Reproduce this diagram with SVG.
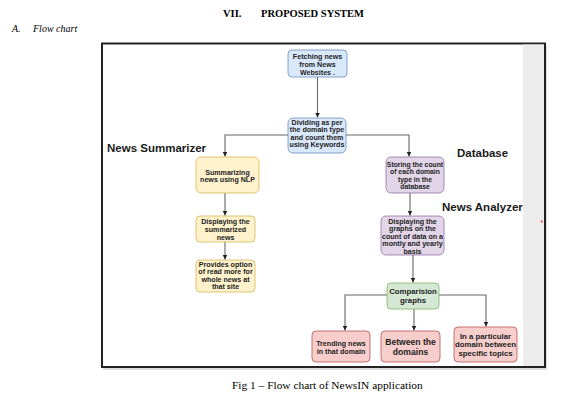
<svg xmlns="http://www.w3.org/2000/svg" width="575" height="400" viewBox="0 0 575 400">
<defs>
<style>
.doc{font-family:"Liberation Serif","Times New Roman",serif;fill:#000}
.lbl{font-family:"Liberation Sans",Arial,sans-serif;font-weight:bold;font-size:11.5px;fill:#1a1a1a}
.t{font-family:"Liberation Sans",Arial,sans-serif;font-weight:bold;font-size:7.1px;fill:#222;text-anchor:middle}
.s68{font-size:6.8px}
.s78{font-size:7.8px}
.s86{font-size:8.6px}
.blue{fill:#dae8fc;stroke:#6c8ebf;stroke-width:0.8}
.yel{fill:#fff2cc;stroke:#d6b656;stroke-width:0.8}
.pur{fill:#e1d5e7;stroke:#9673a6;stroke-width:0.8}
.grn{fill:#d5e8d4;stroke:#82b366;stroke-width:0.8}
.red{fill:#f8cecc;stroke:#b85450;stroke-width:0.8}
.c{fill:none;stroke:#666;stroke-width:1.1}
</style>
<marker id="ah" markerWidth="6" markerHeight="6" refX="5" refY="3" orient="auto" markerUnits="userSpaceOnUse">
<path d="M0,0.5 L5,3 L0,5.5 Z" fill="#222"/>
</marker>
</defs>
<rect width="575" height="400" fill="#fff"/>
<text class="doc" x="223" y="17" font-size="10.5" font-weight="bold">VII.</text>
<text class="doc" x="261" y="17" font-size="10.5" font-weight="bold">PROPOSED SYSTEM</text>
<text class="doc" x="12" y="32" font-size="10" font-style="italic">A.</text>
<text class="doc" x="33" y="32" font-size="10" font-style="italic">Flow chart</text>
<text class="doc" x="232" y="389" font-size="11.4">Fig 1 –  Flow chart of NewsIN application</text>

<g id="frame">
<rect x="103" y="45" width="444" height="325" fill="#bbb" opacity="0.5"/>
<rect x="102" y="43.5" width="443" height="323.5" fill="#fff" stroke="#222" stroke-width="2"/>
<rect x="523" y="44.5" width="21" height="321.5" fill="#ececec"/>
<rect x="541" y="220.5" width="1.5" height="2" fill="#e33"/>
</g>

<g id="labels">
<text class="lbl" x="107" y="152">News Summarizer</text>
<text class="lbl" x="457" y="157">Database</text>
<text class="lbl" x="442" y="211">News Analyzer</text>
</g>

<g id="connectors">
<path class="c" d="M317.5,77 V117.5" marker-end="url(#ah)"/>
<path class="c" d="M288,135 H225 V156.5" marker-end="url(#ah)"/>
<path class="c" d="M346,135 H409 V156.5" marker-end="url(#ah)"/>
<path class="c" d="M225,193 V215.5" marker-end="url(#ah)"/>
<path class="c" d="M225,242 V259.5" marker-end="url(#ah)"/>
<path class="c" d="M410,193 V215.5" marker-end="url(#ah)"/>
<path class="c" d="M413,255 V282.5" marker-end="url(#ah)"/>
<path class="c" d="M387,295 H345 V330.5" marker-end="url(#ah)"/>
<path class="c" d="M414,309 V330.5" marker-end="url(#ah)"/>
<path class="c" d="M439,295 H486 V326.5" marker-end="url(#ah)"/>
</g>

<g id="fetch">
<rect class="blue" x="288" y="50" width="59" height="27" rx="4"/>
<text class="t" x="317.5" y="58.5">Fetching news</text>
<text class="t" x="317.5" y="66.5">from  News</text>
<text class="t" x="317.5" y="74.5">Websites .</text>
</g>
<g id="divide">
<rect class="blue" x="288" y="118" width="58" height="35" rx="5"/>
<text class="t" x="317" y="124.5">Dividing as per</text>
<text class="t" x="317" y="132">the domain type</text>
<text class="t" x="317" y="139.5">and count them</text>
<text class="t" x="317" y="147">using Keywords</text>
</g>
<g id="summarize">
<rect class="yel" x="196" y="157" width="63" height="36" rx="5"/>
<text class="t" x="227.5" y="174.5">Summarizing</text>
<text class="t" x="227.5" y="182">news using NLP</text>
</g>
<g id="display-summary">
<rect class="yel" x="196" y="216" width="59" height="26" rx="4"/>
<text class="t" x="225.5" y="223.5">Displaying the</text>
<text class="t" x="225.5" y="231.5">summarized</text>
<text class="t" x="225.5" y="239.5">news</text>
</g>
<g id="read-more">
<rect class="yel" x="196" y="260" width="59" height="32" rx="4"/>
<text class="t" x="225.5" y="266.5">Provides option</text>
<text class="t" x="225.5" y="274">of read more for</text>
<text class="t" x="225.5" y="281.5">whole news at</text>
<text class="t" x="225.5" y="289">that site</text>
</g>
<g id="store">
<rect class="pur" x="386" y="157" width="58" height="36" rx="5"/>
<text class="t s68" x="415" y="166.5">Storing the count</text>
<text class="t s68" x="415" y="174">of each domain</text>
<text class="t s68" x="415" y="181.5">type  in the</text>
<text class="t s68" x="415" y="189">database</text>
</g>
<g id="display-graphs">
<rect class="pur" x="381" y="216" width="63" height="39" rx="5"/>
<text class="t" x="412.5" y="223.5">Displaying the</text>
<text class="t" x="412.5" y="231">graphs on the</text>
<text class="t" x="412.5" y="238.5">count of data on a</text>
<text class="t" x="412.5" y="246">montly and yearly</text>
<text class="t" x="412.5" y="253.5">basis</text>
</g>
<g id="compare">
<rect class="grn" x="387" y="283" width="52" height="26" rx="4"/>
<text class="t s78" x="413" y="293.5">Comparision</text>
<text class="t s78" x="413" y="302.5">graphs</text>
</g>
<g id="trending">
<rect class="red" x="312" y="331" width="58" height="31" rx="4"/>
<text class="t" x="341" y="345.5">Trending news</text>
<text class="t" x="341" y="353.5">in that domain</text>
</g>
<g id="between">
<rect class="red" x="381" y="331" width="59" height="31" rx="4"/>
<text class="t s86" x="410.5" y="345">Between the</text>
<text class="t s86" x="410.5" y="355">domains</text>
</g>
<g id="particular">
<rect class="red" x="454" y="327" width="63" height="35" rx="4"/>
<text class="t s78" x="485.5" y="338.5">In a particular</text>
<text class="t s78" x="485.5" y="347">domain between</text>
<text class="t s78" x="485.5" y="355.5">specific topics</text>
</g>
</svg>
